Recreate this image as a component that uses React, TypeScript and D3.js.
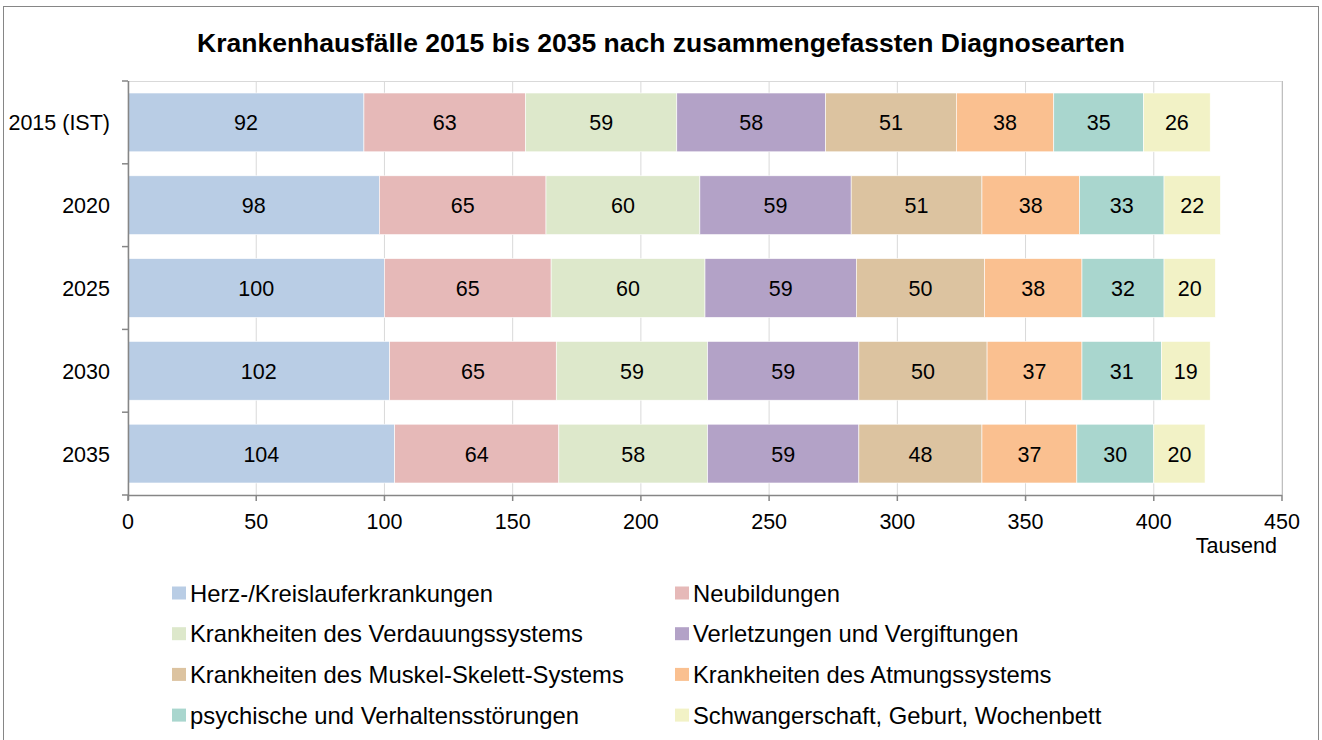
import * as d3 from "d3";

const years = ["2015 (IST)", "2020", "2025", "2030", "2035"];
const seriesNames = [
  "Herz-/Kreislauferkrankungen",
  "Neubildungen",
  "Krankheiten des Verdauungssystems",
  "Verletzungen und Vergiftungen",
  "Krankheiten des Muskel-Skelett-Systems",
  "Krankheiten des Atmungssystems",
  "psychische und Verhaltensstörungen",
  "Schwangerschaft, Geburt, Wochenbett",
];
const herz = [92, 98, 100, 102, 104];
const neubildungen = [63, 65, 65, 65, 64];
const verdauung = [59, 60, 60, 59, 58];
const verletzungen = [58, 59, 59, 59, 59];
const muskel = [51, 51, 50, 50, 48];
const atmung = [38, 38, 38, 37, 37];
const psyche = [35, 33, 32, 31, 30];
const schwanger = [26, 22, 20, 19, 20];
const xTicks = [0, 50, 100, 150, 200, 250, 300, 350, 400, 450];

const colors = ["#b9cde5", "#e6b9b8", "#dde8cb", "#b3a2c7", "#dcc3a0", "#fac090", "#a9d6ce", "#f2f2c6"];

const W = 1322;
const H = 740;
const m = { left: 128, right: 1282, top: 81, bottom: 495 };
const font = "Liberation Sans, Arial, sans-serif";

export default function App() {
  const values = [herz, neubildungen, verdauung, verletzungen, muskel, atmung, psyche, schwanger];
  const rows = years.map((y, i) => {
    const r: any = { year: y };
    seriesNames.forEach((s, k) => (r[s] = values[k][i]));
    return r;
  });
  const stacked = d3.stack().keys(seriesNames)(rows);

  const x = d3.scaleLinear().domain([0, 450]).range([m.left, m.right]);
  const y = d3.scaleBand().domain(years).range([m.top, m.bottom]).paddingInner(0.29).paddingOuter(0.145);
  const band = (m.bottom - m.top) / years.length;

  return (
    <>
      <style>{`body{margin:0}`}</style>
      <svg width={W} height={H} style={{ display: "block", fontFamily: font }}>
        <rect x={3.5} y={6.5} width={1315} height={740} fill="#fff" stroke="#868686" strokeWidth={1} />
        <text x={661} y={52} textAnchor="middle" fontSize={26.5} fontWeight="bold" fill="#000">
          Krankenhausfälle 2015 bis 2035 nach zusammengefassten Diagnosearten
        </text>

        {/* grid */}
        {xTicks.map((t) => (
          <line key={"g" + t} x1={x(t)} x2={x(t)} y1={m.top} y2={m.bottom} stroke="#d9d9d9" strokeWidth={1} />
        ))}
        <line x1={m.left} x2={m.right} y1={m.top + 0.5} y2={m.top + 0.5} stroke="#d9d9d9" />
        <line x1={m.right + 0.5} x2={m.right + 0.5} y1={m.top} y2={m.bottom} stroke="#bfbfbf" />

        {/* bars */}
        {stacked.map((layer, k) => (
          <g key={layer.key}>
            {layer.map((d, i) => {
              const x0 = x(d[0]);
              const x1 = x(d[1]);
              const yy = y(years[i])!;
              return (
                <g key={i}>
                  <rect x={x0} y={yy} width={x1 - x0} height={y.bandwidth()} fill={colors[k]} stroke="#fff" strokeWidth={0.6} />
                  <text x={(x0 + x1) / 2} y={yy + y.bandwidth() / 2 + 8} textAnchor="middle" fontSize={21.5} fill="#000">
                    {values[k][i]}
                  </text>
                </g>
              );
            })}
          </g>
        ))}

        {/* y axis */}
        <line x1={m.left + 0.5} x2={m.left + 0.5} y1={m.top} y2={m.bottom + 5} stroke="#868686" strokeWidth={1.5} />
        {d3.range(years.length + 1).map((i) => (
          <line key={"yt" + i} x1={m.left - 6} x2={m.left} y1={m.top + i * band} y2={m.top + i * band} stroke="#868686" strokeWidth={1.5} />
        ))}
        {years.map((yr) => (
          <text key={yr} x={110} y={y(yr)! + y.bandwidth() / 2 + 8} textAnchor="end" fontSize={21.5} fill="#000">
            {yr}
          </text>
        ))}

        {/* x axis */}
        <line x1={m.left} x2={m.right} y1={m.bottom + 0.5} y2={m.bottom + 0.5} stroke="#868686" strokeWidth={1.5} />
        {xTicks.map((t) => (
          <g key={"xt" + t}>
            <line x1={x(t)} x2={x(t)} y1={m.bottom} y2={m.bottom + 6} stroke="#868686" strokeWidth={1.5} />
            <text x={x(t)} y={528.5} textAnchor="middle" fontSize={21.5} fill="#000">
              {t}
            </text>
          </g>
        ))}
        <text x={1277} y={553} textAnchor="end" fontSize={21.5} fill="#000">
          Tausend
        </text>

        {/* legend */}
        {seriesNames.map((s, k) => {
          const col = k % 2;
          const row = Math.floor(k / 2);
          const lx = col === 0 ? 172 : 675;
          const ly = 593 + row * 40.7;
          return (
            <g key={"l" + s}>
              <rect x={lx} y={ly - 6.5} width={14} height={13} fill={colors[k]} />
              <text x={lx + 18} y={ly + 8.5} fontSize={23.8} fill="#000">
                {s}
              </text>
            </g>
          );
        })}
      </svg>
    </>
  );
}
